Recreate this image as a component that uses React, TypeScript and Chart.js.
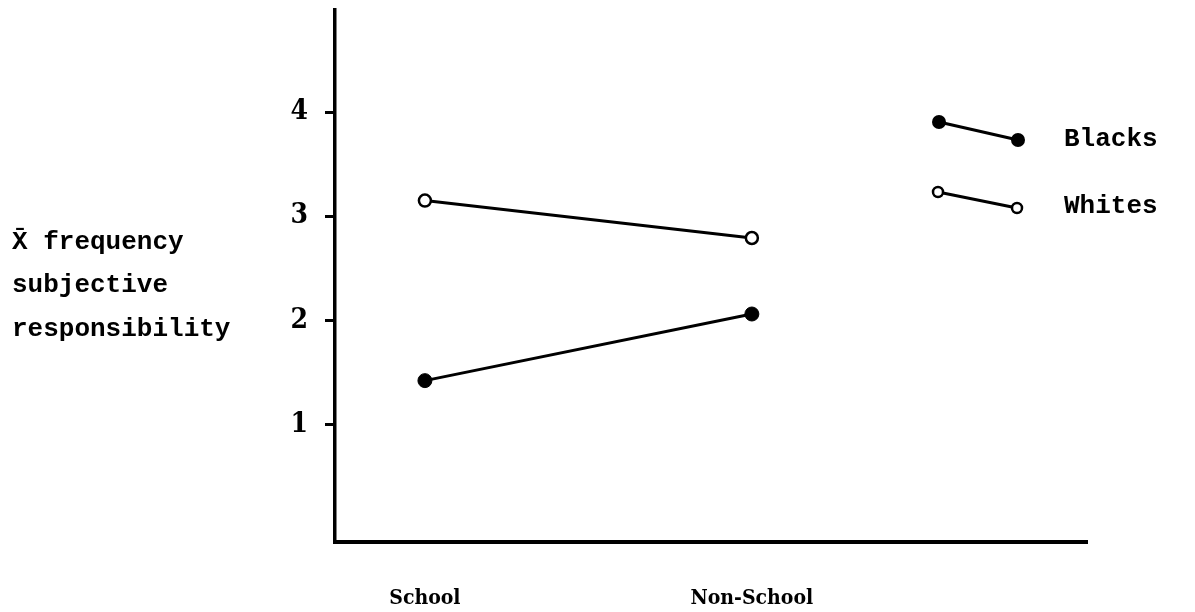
import React, { useEffect, useRef } from 'react';
import { Chart, registerables } from 'chart.js';

Chart.register(...registerables);

const categories = ['School', 'Non-School'];
const blacks = [1.42, 2.06];
const whites = [3.15, 2.79];
const yTicks = [1, 2, 3, 4];
const titleLines = ['X\u0304 frequency', 'subjective', 'responsibility'];
const legendLabels = ['Blacks', 'Whites'];

const MONO = "'Liberation Mono', 'DejaVu Sans Mono', monospace";
const COND = "'DejaVu Serif Condensed', 'DejaVu Serif', serif";

const decorPlugin = {
  id: 'decor',
  afterDraw(chart: any) {
    const ctx = chart.ctx as CanvasRenderingContext2D;
    ctx.save();
    ctx.fillStyle = '#000';
    ctx.strokeStyle = '#000';
    // y-axis title (three lines, horizontal)
    ctx.font = `bold 26px ${MONO}`;
    ctx.textAlign = 'left';
    ctx.textBaseline = 'middle';
    const ty = [242, 285, 329];
    titleLines.forEach((t, i) => ctx.fillText(t, 12, ty[i]));

    // legend
    const items = [
      { label: legendLabels[0], filled: true, a: [939, 122], b: [1018, 140], ty: 139, r: 7 },
      { label: legendLabels[1], filled: false, a: [938, 192], b: [1017, 208], ty: 206, r: 5 },
    ];
    items.forEach((it) => {
      ctx.lineWidth = 3;
      ctx.beginPath();
      ctx.moveTo(it.a[0], it.a[1]);
      ctx.lineTo(it.b[0], it.b[1]);
      ctx.stroke();
      [it.a, it.b].forEach((p) => {
        ctx.beginPath();
        ctx.arc(p[0], p[1], it.r, 0, Math.PI * 2);
        if (it.filled) {
          ctx.fill();
        } else {
          ctx.fillStyle = '#fff';
          ctx.fill();
          ctx.lineWidth = 2.5;
          ctx.stroke();
          ctx.fillStyle = '#000';
        }
      });
      ctx.font = `bold 26px ${MONO}`;
      ctx.fillText(it.label, 1064, it.ty);
    });
    ctx.restore();
  },
};

const zeroPad = (s: any) => {
  s.paddingTop = 0;
  s.paddingBottom = 0;
  s.paddingLeft = 0;
  s.paddingRight = 0;
};

export default function App() {
  const ref = useRef<HTMLCanvasElement>(null);
  useEffect(() => {
    document.body.style.margin = '0';
    const chart = new Chart(ref.current as HTMLCanvasElement, {
      type: 'line',
      data: {
        datasets: [
          {
            label: legendLabels[0],
            data: categories.map((_, i) => ({ x: i + 1, y: blacks[i] })),
            borderColor: '#000',
            borderWidth: 3,
            pointRadius: 7,
            pointBackgroundColor: '#000',
            pointBorderColor: '#000',
            pointBorderWidth: 1,
          },
          {
            label: legendLabels[1],
            data: categories.map((_, i) => ({ x: i + 1, y: whites[i] })),
            borderColor: '#000',
            borderWidth: 3,
            pointRadius: 6,
            pointBackgroundColor: '#fff',
            pointBorderColor: '#000',
            pointBorderWidth: 2.5,
          },
        ],
      },
      options: {
        responsive: false,
        maintainAspectRatio: false,
        animation: false,
        layout: { padding: { left: 0, top: 10, right: 108, bottom: 0 } },
        plugins: { legend: { display: false }, tooltip: { enabled: false } },
        scales: {
          x: {
            type: 'linear',
            min: 0.725,
            max: 3.025,
            afterBuildTicks: (a: any) => {
              a.ticks = categories.map((_, i) => ({ value: i + 1 }));
            },
            afterFit: (s: any) => {
              s.height = 70;
              zeroPad(s);
            },
            grid: { drawOnChartArea: false, drawTicks: false },
            border: { color: '#000', width: 4 },
            ticks: {
              callback: (v: any) => categories[Number(v) - 1] ?? '',
              color: '#000',
              font: { family: COND, size: 21, weight: 'bold' },
              padding: 44,
              maxRotation: 0,
              autoSkip: false,
            },
          },
          y: {
            type: 'linear',
            min: -0.13,
            max: 4.98,
            afterBuildTicks: (a: any) => {
              a.ticks = yTicks.map((v) => ({ value: v }));
            },
            afterFit: (s: any) => {
              s.width = 335;
              zeroPad(s);
            },
            grid: { drawOnChartArea: false, drawTicks: true, tickLength: 10, tickWidth: 3, color: '#000' },
            border: { color: '#000', width: 3.5 },
            ticks: {
              color: '#000',
              font: { family: COND, size: 28, weight: 'bold' },
              padding: 17,
            },
          },
        },
      },
      plugins: [decorPlugin],
    } as any);
    return () => chart.destroy();
  }, []);
  return (
    <div style={{ position: 'absolute', left: 0, top: 0, width: 1195, height: 612 }}>
      <canvas ref={ref} width={1195} height={612} style={{ display: 'block' }} />
    </div>
  );
}
